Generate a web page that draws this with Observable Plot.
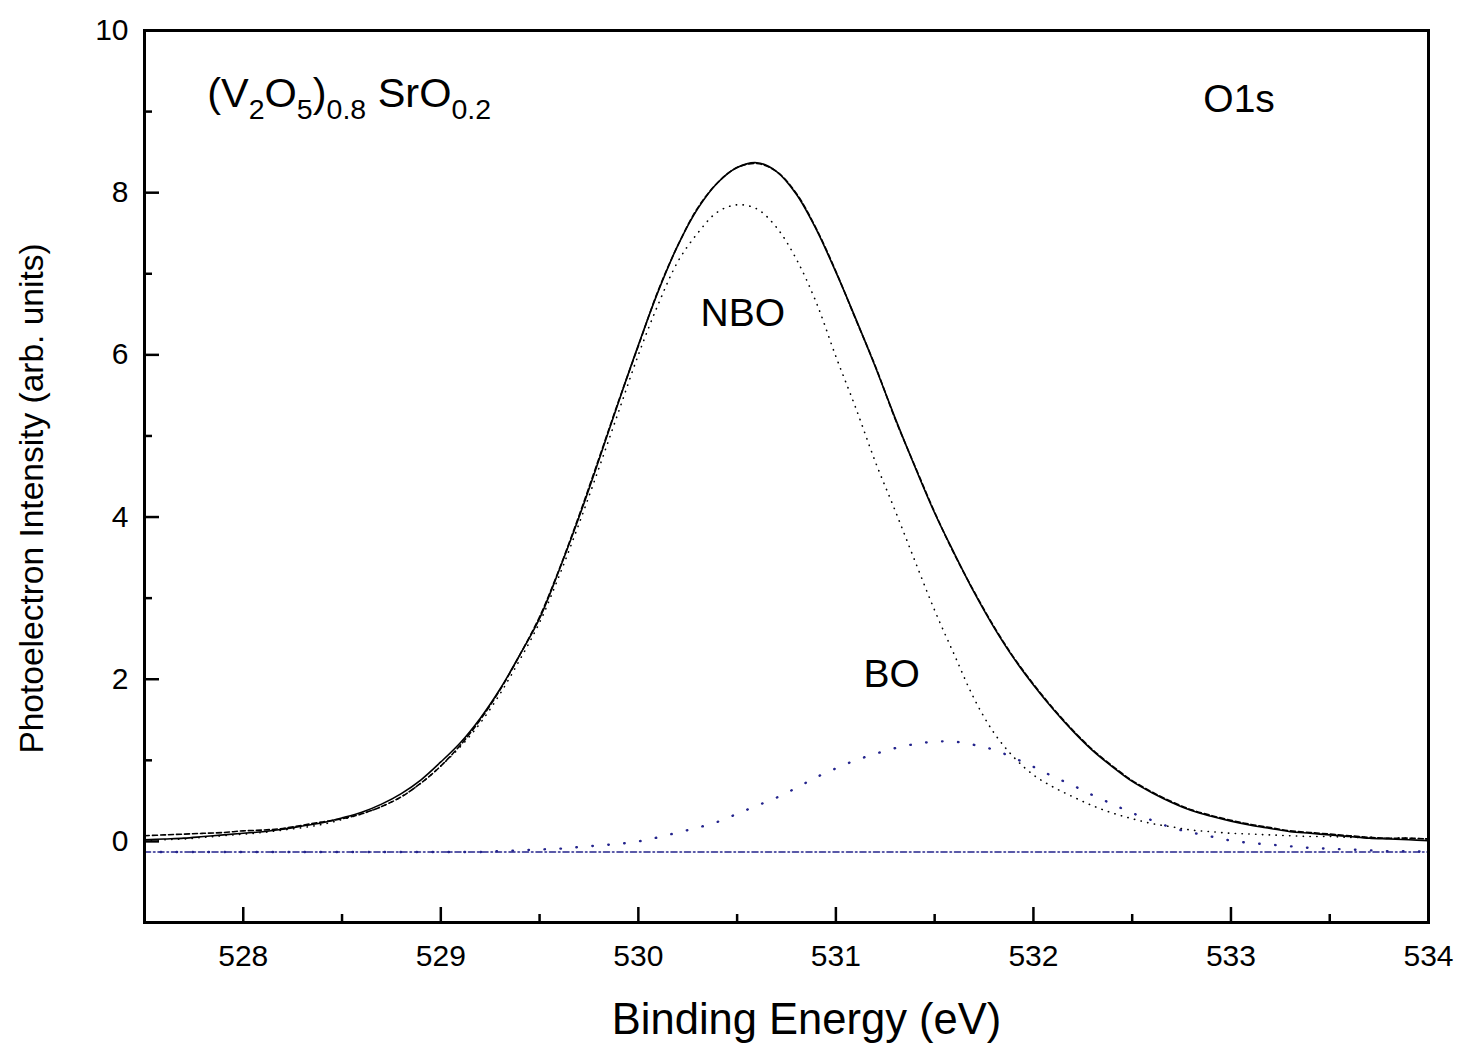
<!DOCTYPE html>
<html>
<head>
<meta charset="utf-8">
<script src="https://cdn.jsdelivr.net/npm/d3@7"></script>
<script src="https://cdn.jsdelivr.net/npm/@observablehq/plot@0.6"></script>
<style>
  html, body { margin: 0; padding: 0; background: #fff; }
  #chart { width: 1460px; height: 1046px; }
</style>
</head>
<body>
<div id="chart"></div>
<script>
// Binding energy samples (eV)
const energy = [527.5,527.6,527.7,527.8,527.9,528.0,528.1,528.2,528.3,528.4,528.5,528.6,528.7,528.8,528.9,
  529.0,529.1,529.2,529.3,529.4,529.5,529.6,529.7,529.8,529.9,530.0,530.1,530.2,530.3,530.4,530.5,530.6,530.7,
  530.8,530.9,531.0,531.1,531.2,531.3,531.4,531.5,531.6,531.7,531.8,531.9,532.0,532.1,532.2,532.3,532.4,532.5,
  532.6,532.7,532.8,532.9,533.0,533.1,533.2,533.3,533.4,533.5,533.6,533.7,533.8,533.9,534.0];

// Measured spectrum (dashed)
const measured = [0.07,0.08,0.09,0.10,0.11,0.13,0.14,0.16,0.20,0.24,0.28,0.34,0.43,0.55,0.72,
  0.93,1.19,1.50,1.87,2.30,2.77,3.36,4.02,4.72,5.43,6.11,6.79,7.35,7.81,8.12,8.31,8.36,8.26,
  7.99,7.56,7.03,6.44,5.86,5.21,4.63,4.06,3.54,3.08,2.65,2.27,1.94,1.64,1.37,1.13,0.93,0.75,
  0.61,0.49,0.39,0.32,0.26,0.21,0.17,0.13,0.11,0.09,0.07,0.05,0.04,0.04,0.03];

// Fitted envelope (solid)
const fitted = [0.02,0.03,0.04,0.06,0.08,0.10,0.12,0.15,0.19,0.23,0.29,0.36,0.46,0.59,0.76,
  0.98,1.22,1.52,1.88,2.30,2.75,3.35,4.00,4.70,5.42,6.12,6.78,7.35,7.80,8.12,8.31,8.37,8.26,
  7.98,7.55,7.02,6.45,5.85,5.22,4.62,4.05,3.55,3.07,2.64,2.26,1.93,1.63,1.36,1.12,0.92,0.74,
  0.60,0.48,0.38,0.31,0.25,0.20,0.16,0.12,0.10,0.08,0.06,0.04,0.03,0.02,0.01];

// NBO component (black dotted)
const nbo = [0.01,0.02,0.03,0.05,0.07,0.09,0.11,0.14,0.17,0.21,0.27,0.34,0.43,0.55,0.72,
  0.93,1.17,1.46,1.82,2.24,2.70,3.28,3.92,4.60,5.30,6.00,6.62,7.15,7.50,7.76,7.85,7.80,7.57,
  7.18,6.65,5.98,5.35,4.68,4.08,3.46,2.85,2.30,1.76,1.34,1.04,0.82,0.67,0.55,0.44,0.35,0.28,
  0.22,0.18,0.14,0.12,0.10,0.09,0.08,0.07,0.06,0.06,0.05,0.05,0.04,0.04,0.03];

// BO component (blue dotted)
const bo = [-0.13,-0.13,-0.13,-0.13,-0.13,-0.13,-0.13,-0.13,-0.13,-0.13,-0.13,-0.13,-0.13,-0.13,-0.13,
  -0.13,-0.13,-0.13,-0.12,-0.11,-0.10,-0.09,-0.07,-0.05,-0.03,0.00,0.05,0.11,0.17,0.24,0.34,0.44,0.54,
  0.66,0.79,0.90,1.00,1.08,1.15,1.20,1.23,1.23,1.19,1.13,1.03,0.92,0.80,0.69,0.57,0.46,0.35,
  0.26,0.17,0.11,0.06,0.01,-0.02,-0.04,-0.06,-0.08,-0.09,-0.10,-0.11,-0.12,-0.12,-0.13];

// Background (blue dash-dot)
const backgroundX = [527.5, 534.0];
const backgroundY = [-0.13, -0.13];

// Axis ticks
const xMajor = [528, 529, 530, 531, 532, 533, 534];
const xMinor = [527.5, 528.5, 529.5, 530.5, 531.5, 532.5, 533.5];
const yMajor = [0, 2, 4, 6, 8, 10];
const yMinor = [-1, 1, 3, 5, 7, 9];

// Annotations
const labelText = ["NBO", "BO", "O1s"];
const labelX = [530.315, 531.14, 532.86];
const labelY = [6.35, 1.90, 8.99];

const rows = energy.map((e, i) => ({e, measured: measured[i], fitted: fitted[i], nbo: nbo[i], bo: bo[i]}));
const bgRows = backgroundX.map((e, i) => ({e, v: backgroundY[i]}));
const labels = labelText.map((t, i) => ({t, x: labelX[i], y: labelY[i]}));

const W = 1460, H = 1046;
const mL = 144, mR = 32, mT = 30, mB = 124;
const innerW = W - mL - mR, innerH = H - mT - mB;
const navy = "#23238c";
const FONT = "'Liberation Sans', Arial, sans-serif";

const plot = Plot.plot({
  width: W, height: H,
  marginLeft: mL, marginRight: mR, marginTop: mT, marginBottom: mB,
  style: {fontFamily: FONT, background: "#fff", color: "#000"},
  x: {domain: [527.5, 534], axis: null},
  y: {domain: [-1, 10], axis: null},
  marks: [
    // background
    Plot.line(bgRows, {x: "e", y: "v", stroke: navy, strokeWidth: 1.6, strokeDasharray: "6,3,1.5,3"}),
    // BO component
    Plot.line(rows, {x: "e", y: "bo", curve: "catmull-rom", stroke: navy, strokeWidth: 2.4, strokeLinecap: "round", strokeDasharray: "0.5,15.5"}),
    // NBO component
    Plot.line(rows, {x: "e", y: "nbo", curve: "catmull-rom", stroke: "#000", strokeWidth: 1.6, strokeLinecap: "round", strokeDasharray: "0.3,6.5"}),
    // measured
    Plot.line(rows, {x: "e", y: "measured", curve: "catmull-rom", stroke: "#000", strokeWidth: 1.6, strokeDasharray: "5,3"}),
    // fit
    Plot.line(rows, {x: "e", y: "fitted", curve: "catmull-rom", stroke: "#000", strokeWidth: 1.6}),
    // inward ticks
    Plot.tickX(xMajor, {x: d => d, stroke: "#000", strokeWidth: 2.5, insetTop: innerH - 15}),
    Plot.tickX(xMinor, {x: d => d, stroke: "#000", strokeWidth: 2.5, insetTop: innerH - 8}),
    Plot.tickY(yMajor, {y: d => d, stroke: "#000", strokeWidth: 2.5, insetRight: innerW - 15}),
    Plot.tickY(yMinor, {y: d => d, stroke: "#000", strokeWidth: 2.5, insetRight: innerW - 8}),
    // tick labels
    Plot.axisX({ticks: xMajor, tickSize: 0, tickPadding: 22, fontSize: 30, tickFormat: d => String(d), label: null}),
    Plot.axisY({ticks: yMajor, tickSize: 0, tickPadding: 16, fontSize: 30, tickFormat: d => String(d), label: null}),
    // axis titles
    Plot.text(["Binding Energy (eV)"], {frameAnchor: "bottom", textAnchor: "middle", dx: 20, dy: 98, fontSize: 43.5, lineAnchor: "middle", fill: "#000"}),
    Plot.text(["Photoelectron Intensity (arb. units)"], {frameAnchor: "left", textAnchor: "middle", dx: -112, dy: 22, rotate: -90, fontSize: 33.5, lineAnchor: "middle", fill: "#000"}),
    // annotations
    Plot.text(labels, {x: "x", y: "y", text: "t", textAnchor: "start", lineAnchor: "bottom", fontSize: 39, fill: "#000"}),
    Plot.frame({stroke: "#000", strokeWidth: 3})
  ]
});

document.getElementById("chart").appendChild(plot);

// Composition formula with subscripts
const svg = d3.select(plot);
const xs = plot.scale("x"), ys = plot.scale("y");
const formula = svg.append("text")
  .attr("x", xs.apply(527.82))
  .attr("y", ys.apply(9.05))
  .attr("text-anchor", "start")
  .attr("font-size", 41.5)
  .attr("font-family", FONT)
  .attr("fill", "#000");
const parts = [["(V", false], ["2", true], ["O", false], ["5", true], [")", false], ["0.8", true], ["\u00a0SrO", false], ["0.2", true]];
let sub = false;
for (const [t, isSub] of parts) {
  const ts = formula.append("tspan").text(t);
  if (isSub) {
    ts.attr("font-size", 28.5);
    if (!sub) { ts.attr("dy", 12); sub = true; }
  } else if (sub) {
    ts.attr("dy", -12); sub = false;
  }
}
</script>
</body>
</html>
